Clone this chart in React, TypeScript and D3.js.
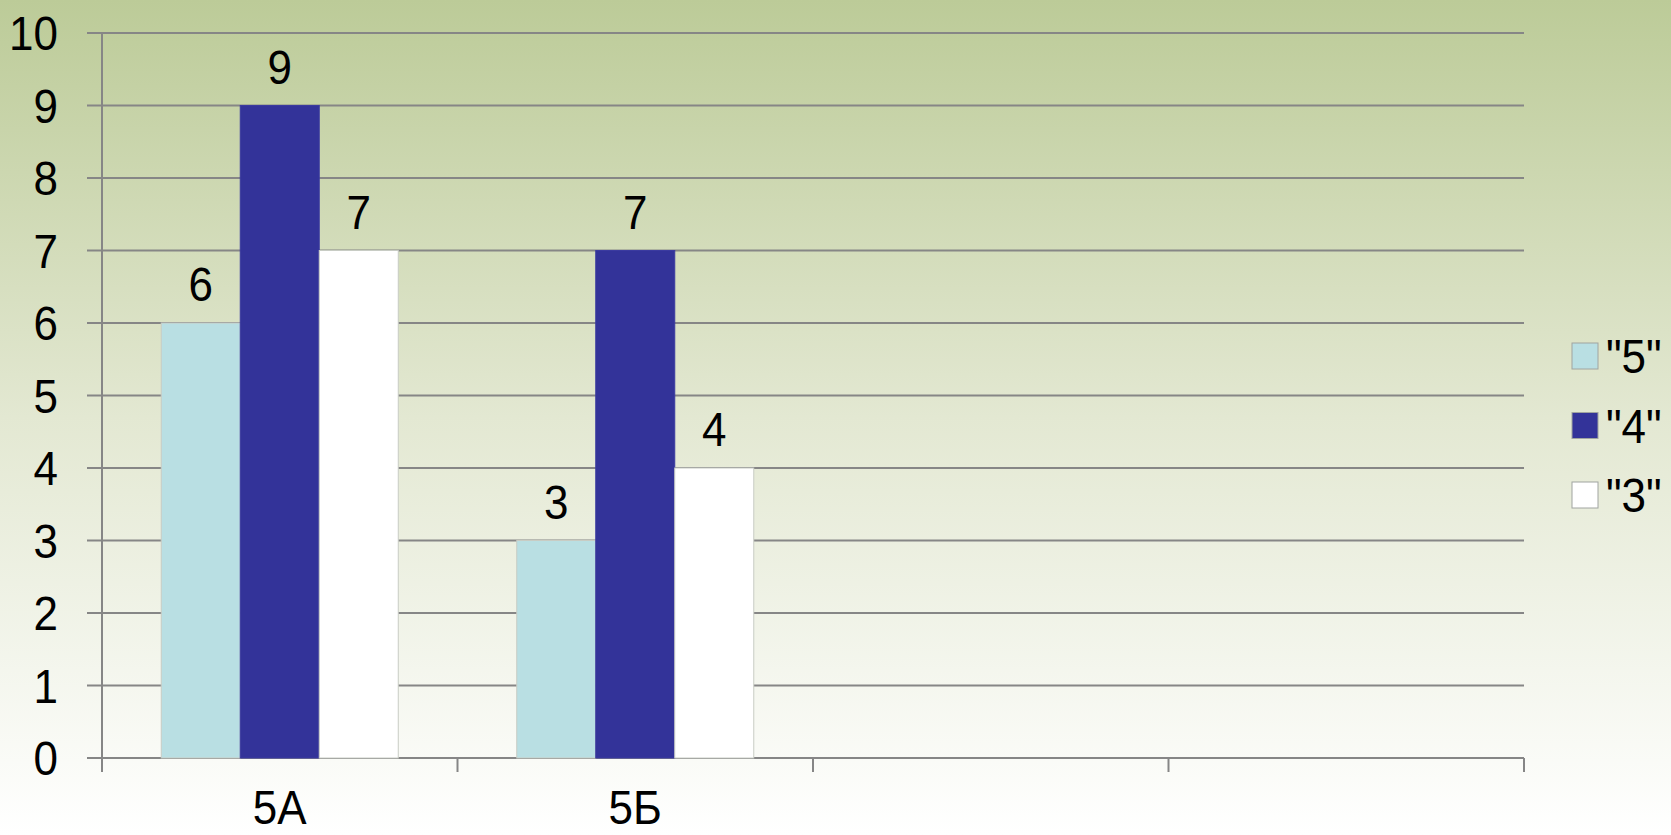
import React, { useEffect, useRef } from 'react';
import * as d3 from 'd3';

const categories = ['5А', '5Б', '', ''];
const seriesNames = ['"5"', '"4"', '"3"'];
const values5 = [6, 3];
const values4 = [9, 7];
const values3 = [7, 4];
const yTicks = [0, 1, 2, 3, 4, 5, 6, 7, 8, 9, 10];

const colors = ['#b9dfe3', '#333399', '#ffffff'];

const App: React.FC = () => {
  const svgRef = useRef<SVGSVGElement>(null);

  useEffect(() => {
    if (!svgRef.current) return;
    const svg = d3.select(svgRef.current);
    svg.selectAll('*').remove();

    const W = 1671;
    const H = 835;
    const font = '"Liberation Sans", Arial, sans-serif';

    // background gradient
    const defs = svg.append('defs');
    const grad = defs.append('linearGradient')
      .attr('id', 'bg')
      .attr('x1', 0).attr('y1', 0).attr('x2', 0).attr('y2', 1);
    grad.append('stop').attr('offset', '0%').attr('stop-color', '#bccb98');
    grad.append('stop').attr('offset', '50%').attr('stop-color', '#e3e8d2');
    grad.append('stop').attr('offset', '100%').attr('stop-color', '#ffffff');
    svg.append('rect').attr('width', W).attr('height', H).attr('fill', 'url(#bg)');

    const left = 102;
    const right = 1524;
    const top = 33;
    const bottom = 758;

    const x = d3.scaleBand<number>()
      .domain(d3.range(categories.length))
      .range([left, right]);

    const y = d3.scaleLinear().domain([0, 10]).range([bottom, top]);

    const series = [values5, values4, values3];
    const inner = d3.scaleBand<number>()
      .domain(d3.range(series.length))
      .range([0, x.bandwidth()])
      .paddingOuter(0.75)
      .paddingInner(0);

    // text helper: slightly tall glyphs like the original
    const label = (parent: d3.Selection<SVGGElement, unknown, null, undefined>,
      tx: number, ty: number, txt: string | number, anchor: string, dy = '0') => {
      parent.append('g')
        .attr('transform', `translate(${tx},${ty}) scale(1,1.1)`)
        .append('text')
        .attr('text-anchor', anchor)
        .attr('dy', dy)
        .style('font-family', font)
        .style('font-size', '44px')
        .attr('fill', '#000')
        .text(txt);
    };

    const g = svg.append('g');

    // grid
    g.selectAll('line.grid')
      .data(yTicks)
      .enter()
      .append('line')
      .attr('x1', left - 15)
      .attr('x2', right)
      .attr('y1', d => y(d))
      .attr('y2', d => y(d))
      .attr('stroke', '#868686')
      .attr('stroke-width', 2);

    // y axis line
    g.append('line')
      .attr('x1', left).attr('x2', left)
      .attr('y1', top).attr('y2', bottom + 14)
      .attr('stroke', '#868686').attr('stroke-width', 2);

    // x ticks
    const tickXs = d3.range(1, categories.length + 1).map(i =>
      i < categories.length ? (x(i) as number) : right);
    g.selectAll('line.xt')
      .data(tickXs)
      .enter()
      .append('line')
      .attr('x1', d => d).attr('x2', d => d)
      .attr('y1', bottom).attr('y2', bottom + 14)
      .attr('stroke', '#868686').attr('stroke-width', 2);

    // y labels
    yTicks.forEach(t => label(g, 58, y(t), t, 'end', '0.36em'));

    // bars
    series.forEach((vals, si) => {
      vals.forEach((v, ci) => {
        const bx = (x(ci) as number) + (inner(si) as number);
        const bw = inner.bandwidth();
        g.append('rect')
          .attr('x', bx)
          .attr('y', y(v))
          .attr('width', bw)
          .attr('height', y(0) - y(v))
          .attr('fill', colors[si])
          .attr('stroke', si === 1 ? '#3b3ba0' : '#c8ccc4')
          .attr('stroke-width', 1);
        label(g, bx + bw / 2, y(v) - 22, v, 'middle');
      });
    });

    // category labels
    categories.forEach((c, i) => {
      if (c) label(g, (x(i) as number) + x.bandwidth() / 2, 824, c, 'middle');
    });

    // legend
    const legend = svg.append('g').attr('transform', 'translate(1572, 343)');
    seriesNames.forEach((name, i) => {
      const item = legend.append('g').attr('transform', `translate(0, ${i * 69.5})`);
      item.append('rect')
        .attr('width', 26).attr('height', 26)
        .attr('fill', colors[i])
        .attr('stroke', '#a0a4a0').attr('stroke-width', 1);
      label(item, 34, 13, name, 'start', '0.36em');
    });
  }, []);

  return (
    <svg
      ref={svgRef}
      width={1671}
      height={835}
      style={{ position: 'absolute', left: 0, top: 0, display: 'block' }}
    />
  );
};

export default App;
